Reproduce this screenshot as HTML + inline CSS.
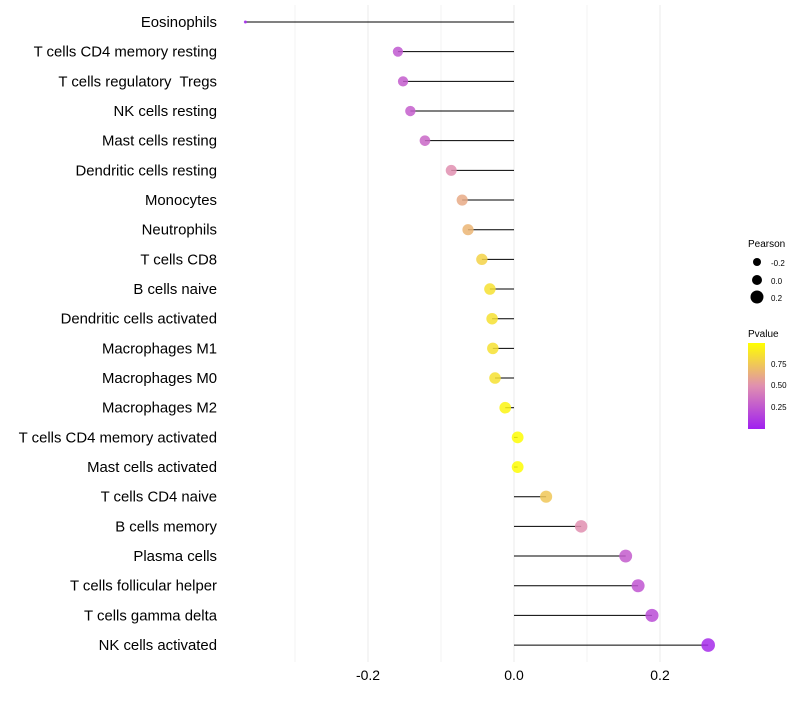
<!DOCTYPE html>
<html><head><meta charset="utf-8"><style>
body{margin:0;background:#fff;font-family:"Liberation Sans",sans-serif}
svg text{font-family:"Liberation Sans",sans-serif;white-space:pre}
</style></head><body>
<svg id="chart" width="800" height="700">
<defs><linearGradient id="pg" x1="0" y1="1" x2="0" y2="0">
<stop offset="0" stop-color="#a020f0"/><stop offset="0.5" stop-color="#e08fb0"/><stop offset="1" stop-color="#ffff00"/></linearGradient></defs>
<g id="grid"></g><g id="marks"></g><g id="labels"></g>
<g>
<text x="748" y="247" font-size="10">Pearson</text>
<circle cx="757" cy="262" r="4" fill="#000"/>
<text x="771" y="266" font-size="8">-0.2</text>
<circle cx="757" cy="280" r="5" fill="#000"/>
<text x="771" y="284" font-size="8">0.0</text>
<circle cx="757" cy="297" r="6.5" fill="#000"/>
<text x="771" y="301" font-size="8">0.2</text>
<text x="748" y="337" font-size="10">Pvalue</text>
<rect x="748" y="343" width="17" height="86" fill="url(#pg)"/>
<text x="771" y="367" font-size="8">0.75</text>
<text x="771" y="388" font-size="8">0.50</text>
<text x="771" y="410" font-size="8">0.25</text>
</g>
</svg>
<script>
const categories=["Eosinophils","T cells CD4 memory resting","T cells regulatory  Tregs","NK cells resting","Mast cells resting","Dendritic cells resting","Monocytes","Neutrophils","T cells CD8","B cells naive","Dendritic cells activated","Macrophages M1","Macrophages M0","Macrophages M2","T cells CD4 memory activated","Mast cells activated","T cells CD4 naive","B cells memory","Plasma cells","T cells follicular helper","T cells gamma delta","NK cells activated"];
const pearson=[-0.368,-0.159,-0.152,-0.142,-0.122,-0.086,-0.071,-0.063,-0.044,-0.033,-0.030,-0.029,-0.026,-0.012,0.005,0.005,0.044,0.092,0.153,0.170,0.189,0.266];
const pvalue=[0.02,0.25,0.27,0.28,0.32,0.5,0.62,0.67,0.8,0.86,0.86,0.86,0.86,0.95,0.99,0.99,0.75,0.5,0.27,0.24,0.2,0.05];
const xTicks=[-0.2,0.0,0.2];
const xGrid=[-0.3,-0.2,-0.1,0,0.1,0.2];
const NS="http://www.w3.org/2000/svg";
const xs=v=>514+v*730;
const ys=i=>22+i*29.67;
const rs=v=>1.5+5.3*Math.pow(Math.max(0,(v+0.368)/0.634),0.35);
function lerp(a,b,t){return a.map((x,i)=>Math.round(x+(b[i]-x)*t));}
function col(p){const s=[[160,32,240],[224,143,176],[255,255,0]];const t=Math.max(0,Math.min(1,p));const c=t<0.5?lerp(s[0],s[1],t*2):lerp(s[1],s[2],(t-0.5)*2);return `rgb(${c})`;}
function mk(tag,at,par){const e=document.createElementNS(NS,tag);for(const k in at)e.setAttribute(k,at[k]);document.getElementById(par).appendChild(e);return e;}
xGrid.forEach(v=>{const l=mk('line',{x1:xs(v),x2:xs(v),y1:5,y2:662,stroke:'#ebebeb','stroke-width':(Math.round(v*10)%2===0)?1:0.6},'grid');

});
xTicks.forEach(v=>{const t=mk('text',{x:xs(v),y:680,'font-size':14,'text-anchor':'middle',fill:'#000'},'labels');t.textContent=v.toFixed(1);

});
categories.forEach((c,i)=>{
const t=mk('text',{x:217,y:ys(i)+5,'font-size':14.9,'text-anchor':'end',fill:'#000'},'labels');t.textContent=c;


const l=mk('line',{x1:xs(0),x2:xs(pearson[i]),y1:ys(i),y2:ys(i),stroke:'#000','stroke-width':1},'marks');


const d=mk('circle',{cx:xs(pearson[i]),cy:ys(i),r:rs(pearson[i]),fill:col(pvalue[i]),'fill-opacity':0.85},'marks');


});
</script>
</body></html>
